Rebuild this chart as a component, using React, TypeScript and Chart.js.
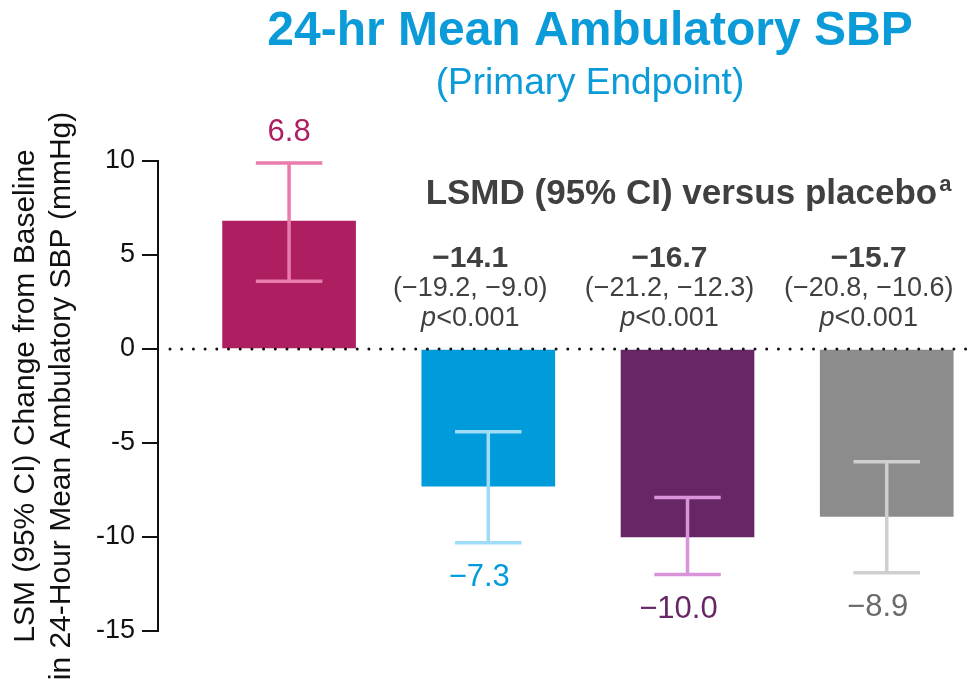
import React, { useEffect, useRef } from "react";
import { Chart, registerables } from "chart.js";

Chart.register(...registerables);

// ---------- data ----------
const categories = ["Placebo", "Dose 1", "Dose 2", "Dose 3"];
const lsmValues = [6.8, -7.3, -10.0, -8.9];
const ciLower = [3.6, -10.3, -12.0, -11.9];
const ciUpper = [9.9, -4.4, -7.9, -6.0];
const valueLabels = ["6.8", "−7.3", "−10.0", "−8.9"];
const lsmdValues = ["", "−14.1", "−16.7", "−15.7"];
const lsmdCIs = ["", "(−19.2, −9.0)", "(−21.2, −12.3)", "(−20.8, −10.6)"];
const lsmdPValues = ["", "<0.001", "<0.001", "<0.001"];
const yTicks = [-15, -10, -5, 0, 5, 10];

const titleText = "24-hr Mean Ambulatory SBP";
const subtitleText = "(Primary Endpoint)";
const lsmdHeader = "LSMD (95% CI) versus placebo";
const lsmdHeaderSup = "a";
const yTitle = ["LSM (95% CI) Change from Baseline", "in 24-Hour Mean Ambulatory SBP (mmHg)"];

// ---------- styles ----------
const barColors = ["#ae1f61", "#009bdb", "#672767", "#8c8c8c"];
const errorColors = ["#ea7bad", "#9edcf8", "#d993d9", "#cfcfcf"];
const labelColors = ["#ae1f61", "#009bdb", "#672767", "#6b6b6b"];
const BLUE = "#0b9bd9";
const GRAY_TEXT = "#404040";
const FONT = '"Liberation Sans", Arial, Helvetica, sans-serif';

const overlayPlugin = {
  id: "overlay",
  afterDatasetsDraw(chart: any) {
    const { ctx, chartArea, scales } = chart;
    const y = scales.y;
    const meta = chart.getDatasetMeta(0);
    // error bars
    meta.data.forEach((bar: any, i: number) => {
      const cx = bar.x;
      const half = bar.width / 4;
      const yHi = y.getPixelForValue(ciUpper[i]);
      const yLo = y.getPixelForValue(ciLower[i]);
      ctx.save();
      ctx.strokeStyle = errorColors[i];
      ctx.lineWidth = 3.5;
      ctx.beginPath();
      ctx.moveTo(cx, yHi);
      ctx.lineTo(cx, yLo);
      ctx.moveTo(cx - half, yHi);
      ctx.lineTo(cx + half, yHi);
      ctx.moveTo(cx - half, yLo);
      ctx.lineTo(cx + half, yLo);
      ctx.stroke();
      ctx.restore();
    });
    // dotted zero line
    const y0 = y.getPixelForValue(0);
    ctx.save();
    ctx.strokeStyle = "#111";
    ctx.lineWidth = 3;
    ctx.lineCap = "round";
    ctx.setLineDash([0, 11.7]);
    ctx.beginPath();
    ctx.moveTo(chartArea.left + 12, y0);
    ctx.lineTo(chartArea.right, y0);
    ctx.stroke();
    ctx.restore();
  },
  afterDraw(chart: any) {
    const { ctx, scales } = chart;
    const y = scales.y;
    const meta = chart.getDatasetMeta(0);
    ctx.save();

    // Title + subtitle
    ctx.textAlign = "center";
    ctx.textBaseline = "alphabetic";
    ctx.fillStyle = BLUE;
    ctx.font = `bold 48px ${FONT}`;
    ctx.fillText(titleText, 590, 45);
    ctx.font = `37px ${FONT}`;
    ctx.fillText(subtitleText, 590, 94);

    // value labels
    ctx.font = `31px ${FONT}`;
    ctx.textBaseline = "middle";
    meta.data.forEach((bar: any, i: number) => {
      const cx = bar.x;
      const txt = valueLabels[i];
      ctx.fillStyle = labelColors[i];
      if (lsmValues[i] >= 0) {
        ctx.textAlign = "center";
        ctx.fillText(txt, cx, y.getPixelForValue(ciUpper[i]) - 30);
      } else {
        const numPart = txt.replace("−", "");
        const w = ctx.measureText(numPart).width;
        ctx.textAlign = "right";
        ctx.fillText(txt, cx + w / 2, y.getPixelForValue(ciLower[i]) + 35);
      }
    });

    // LSMD header
    ctx.textBaseline = "alphabetic";
    ctx.fillStyle = GRAY_TEXT;
    ctx.font = `bold 35px ${FONT}`;
    const hw = ctx.measureText(lsmdHeader).width;
    ctx.font = `bold 22px ${FONT}`;
    const sw = ctx.measureText(lsmdHeaderSup).width;
    const hcx = meta.data[2].x + 1;
    const hx = hcx - (hw + sw + 2) / 2;
    ctx.textAlign = "left";
    ctx.font = `bold 35px ${FONT}`;
    ctx.fillText(lsmdHeader, hx, 204);
    ctx.font = `bold 22px ${FONT}`;
    ctx.fillText(lsmdHeaderSup, hx + hw + 2, 191);

    // LSMD blocks
    meta.data.forEach((bar: any, i: number) => {
      if (!lsmdValues[i]) return;
      const cx = bar.x - 18;
      ctx.fillStyle = GRAY_TEXT;
      ctx.textAlign = "center";
      ctx.font = `bold 30px ${FONT}`;
      ctx.fillText(lsmdValues[i], cx, 267);
      ctx.font = `27px ${FONT}`;
      ctx.fillText(lsmdCIs[i], cx, 296);
      // p-value: italic p + regular rest
      ctx.font = `italic 27px ${FONT}`;
      const pw = ctx.measureText("p").width;
      ctx.font = `27px ${FONT}`;
      const rw = ctx.measureText(lsmdPValues[i]).width;
      const sx = cx - (pw + rw) / 2;
      ctx.textAlign = "left";
      ctx.font = `italic 27px ${FONT}`;
      ctx.fillText("p", sx, 326);
      ctx.font = `27px ${FONT}`;
      ctx.fillText(lsmdPValues[i], sx + pw, 326);
    });

    ctx.restore();
  },
};

export default function App() {
  const canvasRef = useRef<HTMLCanvasElement | null>(null);

  useEffect(() => {
    if (!canvasRef.current) return;
    Chart.defaults.font.family = FONT;
    const chart = new Chart(canvasRef.current, {
      type: "bar",
      data: {
        datasets: [
          {
            label: "LSM change",
            data: lsmValues.map((v, i) => ({ x: i, y: v, name: categories[i] })) as any,
            backgroundColor: barColors,
            borderWidth: 0,
            barThickness: 133,
          },
        ],
      },
      options: {
        responsive: false,
        animation: false,
        layout: { padding: { top: 161, bottom: 52, left: 0, right: 0 } },
        plugins: {
          legend: { display: false },
          tooltip: { enabled: false },
          title: { display: false },
        },
        scales: {
          x: {
            type: "linear",
            min: -0.658,
            max: 3.413,
            offset: false,
            display: false,
            grid: { display: false, offset: false },
          },
          y: {
            min: -15,
            max: 10,
            afterBuildTicks: (s: any) => {
              s.ticks = yTicks.map((v) => ({ value: v }));
            },
            afterFit: (s: any) => {
              s.width = 158;
            },
            ticks: {
              color: "#111",
              font: { size: 27, family: FONT },
              padding: 7,
              callback: (v: any) => String(v),
            },
            grid: {
              drawOnChartArea: false,
              drawTicks: true,
              tickLength: 16,
              color: "#111",
              lineWidth: 2,
            },
            border: { display: true, color: "#111", width: 2 },
            title: {
              display: true,
              text: yTitle,
              color: "#111",
              font: { size: 30, family: FONT, lineHeight: 1.2 },
              padding: { top: 8, bottom: 0 },
            },
          },
        },
      },
      plugins: [overlayPlugin],
    });
    return () => chart.destroy();
  }, []);

  return (
    <div style={{ position: "fixed", left: 0, top: 0, width: 969, height: 683, background: "#fff" }}>
      <canvas ref={canvasRef} width={969} height={683} style={{ display: "block" }} />
    </div>
  );
}
